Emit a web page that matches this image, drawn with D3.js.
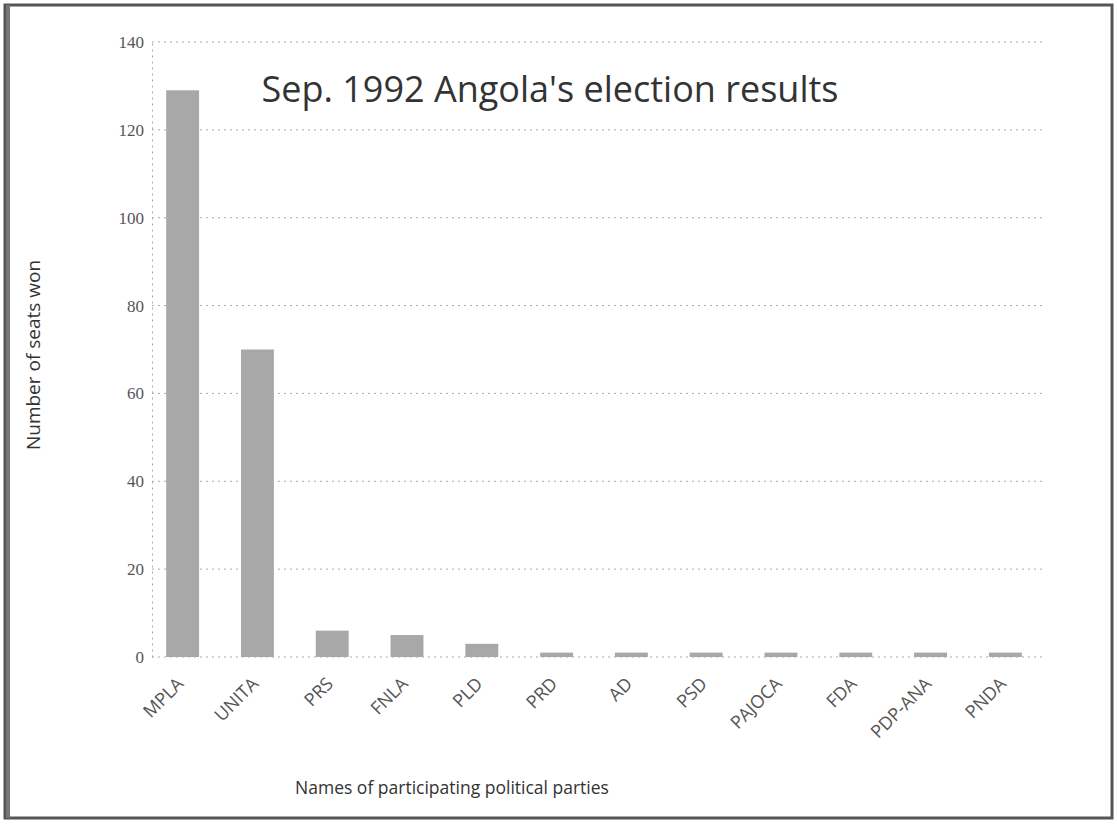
<!DOCTYPE html>
<html>
<head>
<meta charset="utf-8">
<script src="https://cdn.jsdelivr.net/npm/d3@7"></script>
<style>
  body { margin: 0; background: #fff; }
  svg { display: block; }
  .grid line { stroke: #aaa; stroke-dasharray: 2 4; }
  .tick text { fill: #555; }
</style>
</head>
<body>
<div id="chart"></div>
<script>
// Parties and seats won
const parties = ['MPLA', 'UNITA', 'PRS', 'FNLA', 'PLD', 'PRD', 'AD', 'PSD', 'PAJOCA', 'FDA', 'PDP-ANA', 'PNDA'];
const seats = [129, 70, 6, 5, 3, 1, 1, 1, 1, 1, 1, 1];
const yTicks = [0, 20, 40, 60, 80, 100, 120, 140];

const width = 1117, height = 825;
const margin = { top: 42, right: 72, bottom: 168, left: 152 };

const svg = d3.select('#chart')
    .append('svg')
    .attr('width', width)
    .attr('height', height);

// Scanned page frame
svg.append('rect')
    .attr('x', 5).attr('y', 5)
    .attr('width', width - 10).attr('height', height - 12)
    .attr('fill', 'none')
    .attr('stroke', '#555')
    .attr('stroke-width', 3);
svg.append('line')
    .attr('x1', 8).attr('x2', 8)
    .attr('y1', 5).attr('y2', height - 7)
    .attr('stroke', '#777')
    .attr('stroke-width', 4);

const x = d3.scaleBand()
    .domain(parties)
    .range([140, 1048])
    .paddingInner(0.56)
    .paddingOuter(0.35);

const y = d3.scaleLinear()
    .domain([0, 140])
    .range([height - margin.bottom, margin.top]);

// Gridlines
svg.append('g')
    .attr('class', 'grid')
    .selectAll('line')
    .data(yTicks)
    .enter()
    .append('line')
    .attr('x1', margin.left)
    .attr('x2', width - margin.right)
    .attr('y1', d => y(d))
    .attr('y2', d => y(d));

// Y axis
const yAxis = svg.append('g')
    .attr('transform', `translate(${margin.left},0)`)
    .call(d3.axisLeft(y).tickValues(yTicks).tickSize(0).tickPadding(8));
yAxis.select('.domain').attr('stroke', '#aaa').attr('stroke-dasharray', '2 4');
yAxis.selectAll('text')
    .attr('font-family', 'Liberation Serif, serif')
    .attr('font-size', 17);

// Bars
svg.selectAll('.bar')
    .data(parties)
    .enter()
    .append('rect')
    .attr('class', 'bar')
    .attr('x', d => x(d))
    .attr('width', x.bandwidth())
    .attr('y', (d, i) => y(seats[i]))
    .attr('height', (d, i) => y(0) - y(seats[i]))
    .attr('fill', '#a8a8a8');

// X axis, labels slanted at 45 degrees ending under each bar
const xAxis = svg.append('g')
    .attr('transform', `translate(0,${y(0)})`)
    .call(d3.axisBottom(x).tickSize(0));
xAxis.select('.domain').remove();
xAxis.selectAll('text')
    .attr('font-family', 'Open Sans, sans-serif')
    .attr('font-size', 18)
    .attr('fill', '#444')
    .attr('text-anchor', 'end')
    .attr('x', 0)
    .attr('y', 0)
    .attr('dy', 0)
    .attr('transform', 'translate(2,28) rotate(-45)');

// Title
svg.append('text')
    .attr('x', 550)
    .attr('y', 102)
    .attr('text-anchor', 'middle')
    .attr('font-family', 'Open Sans, sans-serif')
    .attr('font-size', 36)
    .attr('fill', '#333')
    .text("Sep. 1992 Angola's election results");

// Axis titles
svg.append('text')
    .attr('transform', 'translate(40,355) rotate(-90)')
    .attr('text-anchor', 'middle')
    .attr('font-family', 'Open Sans, sans-serif')
    .attr('font-size', 19)
    .attr('fill', '#333')
    .text('Number of seats won');

svg.append('text')
    .attr('x', 452)
    .attr('y', 794)
    .attr('text-anchor', 'middle')
    .attr('font-family', 'Open Sans, sans-serif')
    .attr('font-size', 17.5)
    .attr('fill', '#333')
    .text('Names of participating political parties');
</script>
</body>
</html>
